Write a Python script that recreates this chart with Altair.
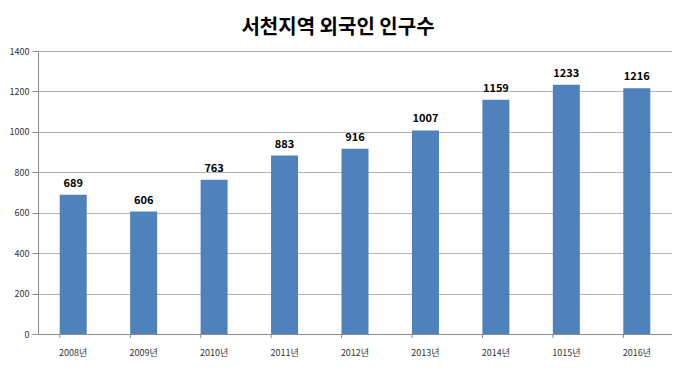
import altair as alt
import pandas as pd

years = ["2008년", "2009년", "2010년", "2011년", "2012년", "2013년", "2014년", "1015년", "2016년"]
values = [689, 606, 763, 883, 916, 1007, 1159, 1233, 1216]

df = pd.DataFrame({"year": years, "value": values})

FONT = "Noto Sans CJK KR"

x_enc = alt.X("year:N", sort=years, title=None,
              scale=alt.Scale(paddingInner=0.62, paddingOuter=0.31),
              axis=alt.Axis(labelAngle=0, ticks=False, labelPadding=14, labelFontSize=9,
                            labelColor="#333333", labelFont=FONT, domainColor="#8c8c8c",
                            grid=False))
y_enc = alt.Y("value:Q", title=None,
              scale=alt.Scale(domain=[0, 1400]),
              axis=alt.Axis(values=list(range(0, 1401, 200)), format="d", tickSize=6,
                            tickColor="#8c8c8c", domainColor="#8c8c8c", gridColor="#b4b4b4",
                            labelFontSize=9, labelColor="#333333", labelFont=FONT,
                            labelPadding=3))

bars = alt.Chart(df).mark_bar(color="#4f81bd", size=27).encode(x=x_enc, y=y_enc)

labels = alt.Chart(df).mark_text(baseline="bottom", dy=-6, fontSize=11, fontWeight="bold",
                                 font=FONT, color="#000000").encode(
    x=alt.X("year:N", sort=years), y="value:Q", text="value:Q")

ticks = alt.Chart(df).mark_rule(color="#8c8c8c").encode(
    x=alt.X("year:N", sort=years, bandPosition=0),
    y=alt.value(283), y2=alt.value(287))

chart = alt.layer(bars, labels, ticks).properties(
    width=634, height=283,
    title=alt.TitleParams("서천지역 외국인 인구수", fontSize=20, fontWeight="bold", font=FONT,
                          color="#000000", anchor="middle", dx=-17, offset=9),
    padding={"left": 30, "top": 43, "right": 0, "bottom": 28},
    autosize=alt.AutoSizeParams(type="none"),
).configure_view(stroke=None)

chart.save("out.html", embed_options={"renderer": "svg", "actions": False})
